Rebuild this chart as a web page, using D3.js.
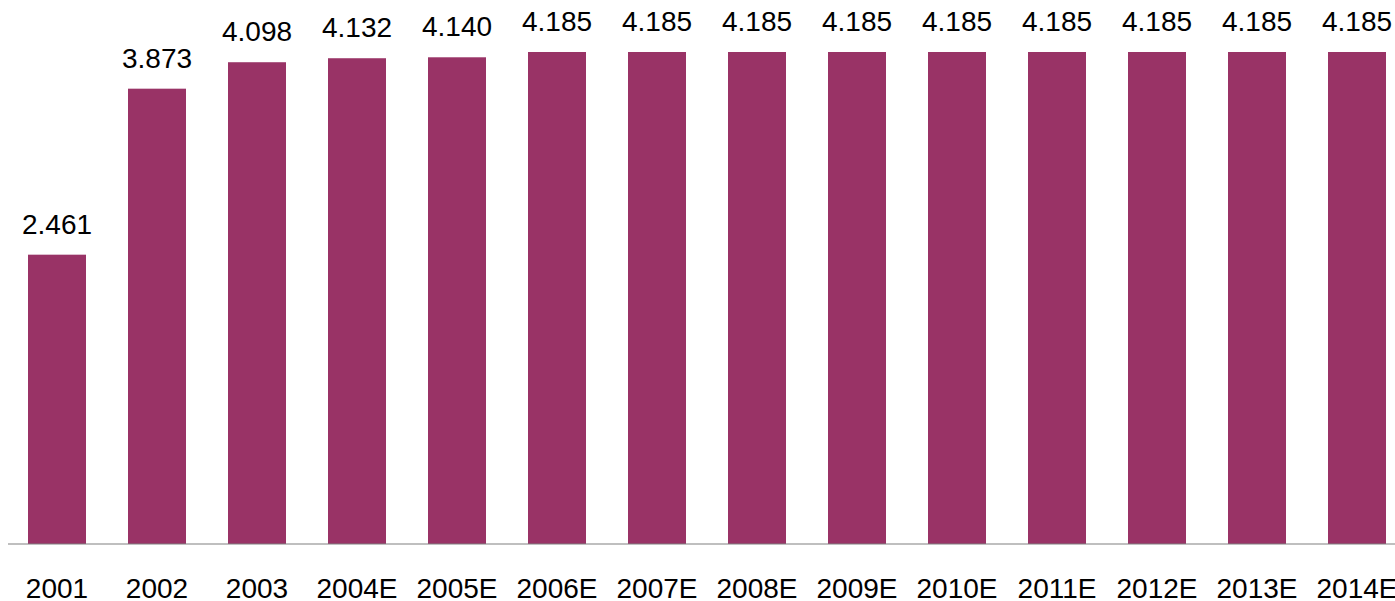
<!DOCTYPE html>
<html><head><meta charset="utf-8">
<script src="https://cdn.jsdelivr.net/npm/d3@7"></script>
<style>body{margin:0;background:#fff}svg{display:block}</style>
</head><body><svg id="c" width="1395" height="601"></svg>
<script>
const categories = ["2001","2002","2003","2004E","2005E","2006E","2007E","2008E","2009E","2010E","2011E","2012E","2013E","2014E"];
const values = [2.461,3.873,4.098,4.132,4.140,4.185,4.185,4.185,4.185,4.185,4.185,4.185,4.185,4.185];
const labels = ["2.461","3.873","4.098","4.132","4.140","4.185","4.185","4.185","4.185","4.185","4.185","4.185","4.185","4.185"];

const svg = d3.select("#c");
const x = d3.scaleBand().domain(categories).range([7, 1407]).paddingInner(0.42).paddingOuter(0.21);
const y = d3.scaleLinear().domain([0, 4.185]).range([544, 52]);
const font = "'Liberation Sans', Arial, sans-serif";

svg.selectAll("rect.bar").data(values).join("rect")
  .attr("class","bar")
  .attr("x",(d,i)=>x(categories[i]))
  .attr("width",x.bandwidth())
  .attr("y",d=>y(d))
  .attr("height",d=>y(0)-y(d))
  .attr("fill","#993366");

const axis = d3.axisBottom(x).tickSize(0).tickPadding(0);
const g = svg.append("g").attr("transform","translate(0,544)").call(axis);
g.select(".domain").attr("d","M8,0H1395").attr("stroke","#808080").attr("stroke-width",1.2);
g.selectAll("text").attr("dy",null).attr("y",54).attr("font-family",font).attr("font-size",28).attr("fill","#000");

svg.selectAll("text.val").data(values).join("text")
  .attr("class","val")
  .attr("x",(d,i)=>x(categories[i])+x.bandwidth()/2)
  .attr("y",d=>y(d)-21)
  .attr("text-anchor","middle")
  .attr("font-family",font).attr("font-size",28).attr("fill","#000")
  .text((d,i)=>labels[i]);
</script></body></html>
